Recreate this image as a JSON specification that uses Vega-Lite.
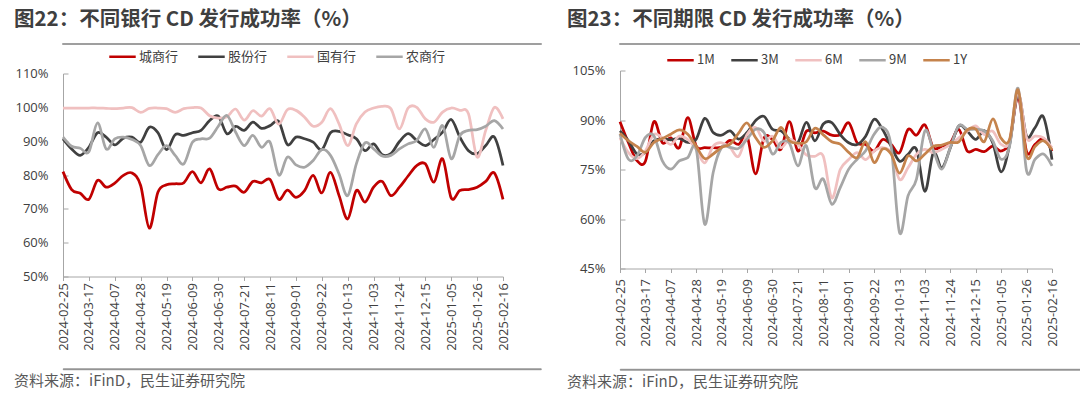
{
  "$schema": "https://vega.github.io/schema/vega-lite/v6.json",
  "background": "white",
  "padding": {"left": 13, "top": 8, "right": 0, "bottom": 0},
  "config": {
    "view": {"stroke": null},
    "font": "Noto Sans CJK SC",
    "axis": {
      "domainColor": "#a6a6a6",
      "tickColor": "#a6a6a6",
      "labelColor": "#404040",
      "labelFont": "Open Sans",
      "grid": false
    },
    "legend": {
      "orient": "none",
      "direction": "horizontal",
      "title": null,
      "labelFont": "Noto Sans CJK SC",
      "labelFontSize": 13,
      "labelColor": "#404040",
      "symbolType": "stroke",
      "symbolStrokeWidth": 2.5,
      "symbolSize": 700,
      "columnPadding": 14,
      "labelOffset": 2
    }
  },
  "datasets": {
    "banks": [
      {"d":"2024-02-25","城商行":81.0,"股份行":90.7,"国有行":99.8,"农商行":91.2},
      {"d":"2024-03-03","城商行":75.7,"股份行":87.7,"国有行":99.8,"农商行":88.5},
      {"d":"2024-03-10","城商行":74.6,"股份行":85.8,"国有行":99.8,"农商行":87.9},
      {"d":"2024-03-17","城商行":72.8,"股份行":88.2,"国有行":99.8,"农商行":86.9},
      {"d":"2024-03-24","城商行":78.4,"股份行":92.5,"国有行":99.8,"农商行":95.4},
      {"d":"2024-03-31","城商行":76.4,"股份行":91.2,"国有行":99.7,"农商行":87.7},
      {"d":"2024-04-07","城商行":77.6,"股份行":88.9,"国有行":99.6,"农商行":90.7},
      {"d":"2024-04-14","城商行":79.9,"股份行":90.9,"国有行":99.8,"农商行":91.2},
      {"d":"2024-04-21","城商行":80.6,"股份行":91.2,"国有行":99.9,"农商行":90.5},
      {"d":"2024-04-28","城商行":76.9,"股份行":89.7,"国有行":98.5,"农商行":88.7},
      {"d":"2024-05-05","城商行":64.3,"股份行":94.1,"国有行":99.7,"农商行":82.8},
      {"d":"2024-05-12","城商行":74.9,"股份行":92.5,"国有行":99.8,"农商行":86.0},
      {"d":"2024-05-19","城商行":77.1,"股份行":87.5,"国有行":99.6,"农商行":88.7},
      {"d":"2024-05-26","城商行":77.4,"股份行":91.9,"国有行":98.5,"农商行":85.8},
      {"d":"2024-06-02","城商行":77.7,"股份行":91.7,"国有行":99.6,"农商行":83.3},
      {"d":"2024-06-09","城商行":81.0,"股份行":92.5,"国有行":99.9,"农商行":89.7},
      {"d":"2024-06-16","城商行":77.7,"股份行":93.2,"国有行":99.8,"农商行":90.7},
      {"d":"2024-06-23","城商行":81.8,"股份行":96.1,"国有行":97.5,"农商行":90.9},
      {"d":"2024-06-30","城商行":75.9,"股份行":97.4,"国有行":96.8,"农商行":94.4},
      {"d":"2024-07-07","城商行":76.4,"股份行":92.2,"国有行":97.2,"农商行":97.6},
      {"d":"2024-07-14","城商行":76.7,"股份行":94.4,"国有行":99.5,"农商行":92.7},
      {"d":"2024-07-21","城商行":74.9,"股份行":93.2,"国有行":96.2,"农商行":88.7},
      {"d":"2024-07-28","城商行":78.1,"股份行":95.6,"国有行":99.0,"农商行":91.7},
      {"d":"2024-08-04","城商行":77.7,"股份行":93.8,"国有行":97.4,"农商行":88.2},
      {"d":"2024-08-11","城商行":78.7,"股份行":94.6,"国有行":99.6,"农商行":89.7},
      {"d":"2024-08-18","城商行":72.8,"股份行":95.8,"国有行":95.0,"农商行":80.0},
      {"d":"2024-08-25","城商行":75.5,"股份行":89.0,"国有行":99.3,"农商行":85.3},
      {"d":"2024-09-01","城商行":73.4,"股份行":91.2,"国有行":99.1,"农商行":83.0},
      {"d":"2024-09-08","城商行":75.4,"股份行":90.7,"国有行":97.1,"农商行":82.3},
      {"d":"2024-09-15","城商行":79.9,"股份行":89.7,"国有行":94.4,"农商行":84.3},
      {"d":"2024-09-22","城商行":74.7,"股份行":87.5,"国有行":95.6,"农商行":87.5},
      {"d":"2024-09-29","城商行":80.8,"股份行":92.5,"国有行":99.6,"农商行":85.8},
      {"d":"2024-10-06","城商行":73.9,"股份行":92.9,"国有行":95.1,"农商行":80.3},
      {"d":"2024-10-13","城商行":67.0,"股份行":91.9,"国有行":88.7,"农商行":73.9},
      {"d":"2024-10-20","城商行":75.4,"股份行":90.7,"国有行":95.1,"农商行":83.3},
      {"d":"2024-10-27","城商行":72.0,"股份行":87.2,"国有行":98.6,"农商行":89.5},
      {"d":"2024-11-03","城商行":76.4,"股份行":89.2,"国有行":99.8,"农商行":87.7},
      {"d":"2024-11-10","城商行":78.1,"股份行":86.0,"国有行":100.3,"农商行":85.6},
      {"d":"2024-11-17","城商行":73.9,"股份行":86.3,"国有行":99.6,"农商行":85.8},
      {"d":"2024-11-24","城商行":76.4,"股份行":89.9,"国有行":93.6,"农商行":87.7},
      {"d":"2024-12-01","城商行":79.7,"股份行":92.2,"国有行":99.8,"农商行":89.2},
      {"d":"2024-12-08","城商行":82.8,"股份行":90.2,"国有行":100.0,"农商行":90.2},
      {"d":"2024-12-15","城商行":83.3,"股份行":88.7,"国有行":96.6,"农商行":93.6},
      {"d":"2024-12-22","城商行":77.9,"股份行":90.5,"国有行":95.6,"农商行":88.2},
      {"d":"2024-12-29","城商行":84.8,"股份行":92.7,"国有行":98.6,"农商行":94.6},
      {"d":"2025-01-05","城商行":73.2,"股份行":96.4,"国有行":99.8,"农商行":84.8},
      {"d":"2025-01-12","城商行":75.4,"股份行":91.2,"国有行":99.1,"农商行":91.7},
      {"d":"2025-01-19","城商行":75.7,"股份行":87.2,"国有行":98.1,"农商行":93.2},
      {"d":"2025-01-26","城商行":76.4,"股份行":86.3,"国有行":85.3,"农商行":93.4},
      {"d":"2025-02-02","城商行":78.1,"股份行":88.7,"国有行":93.2,"农商行":94.4},
      {"d":"2025-02-09","城商行":80.6,"股份行":91.2,"国有行":100.0,"农商行":96.1},
      {"d":"2025-02-16","城商行":72.8,"股份行":82.8,"国有行":96.6,"农商行":93.6}
    ],
    "terms": [
      {"d":"2024-02-25","1M":89.5,"3M":86.7,"6M":84.6,"9M":85.7,"1Y":86.0},
      {"d":"2024-03-03","1M":83.1,"3M":83.7,"6M":80.1,"9M":78.1,"1Y":83.7},
      {"d":"2024-03-10","1M":77.7,"3M":79.7,"6M":78.3,"9M":79.1,"1Y":82.0},
      {"d":"2024-03-17","1M":77.5,"3M":80.2,"6M":80.6,"9M":84.7,"1Y":80.2},
      {"d":"2024-03-24","1M":89.5,"3M":83.7,"6M":85.6,"9M":85.2,"1Y":83.2},
      {"d":"2024-03-31","1M":83.1,"3M":84.2,"6M":84.6,"9M":77.6,"1Y":84.4},
      {"d":"2024-04-07","1M":84.6,"3M":84.0,"6M":82.6,"9M":75.1,"1Y":85.7},
      {"d":"2024-04-14","1M":81.6,"3M":84.4,"6M":85.1,"9M":77.6,"1Y":87.0},
      {"d":"2024-04-21","1M":90.7,"3M":83.2,"6M":84.1,"9M":78.6,"1Y":85.7},
      {"d":"2024-04-28","1M":82.1,"3M":84.2,"6M":81.1,"9M":81.2,"1Y":82.0},
      {"d":"2024-05-05","1M":81.6,"3M":90.5,"6M":77.0,"9M":58.4,"1Y":78.3},
      {"d":"2024-05-12","1M":81.6,"3M":86.2,"6M":82.1,"9M":74.1,"1Y":79.7},
      {"d":"2024-05-19","1M":81.8,"3M":85.4,"6M":83.1,"9M":81.7,"1Y":81.7},
      {"d":"2024-05-26","1M":83.8,"3M":86.7,"6M":81.6,"9M":81.7,"1Y":82.7},
      {"d":"2024-06-02","1M":82.6,"3M":84.2,"6M":79.0,"9M":81.4,"1Y":86.0},
      {"d":"2024-06-09","1M":85.1,"3M":86.2,"6M":85.6,"9M":84.2,"1Y":89.1},
      {"d":"2024-06-16","1M":73.7,"3M":89.8,"6M":87.7,"9M":87.2,"1Y":84.7},
      {"d":"2024-06-23","1M":84.6,"3M":91.1,"6M":83.6,"9M":86.2,"1Y":81.7},
      {"d":"2024-06-30","1M":84.1,"3M":87.2,"6M":85.1,"9M":79.7,"1Y":83.7},
      {"d":"2024-07-07","1M":81.1,"3M":86.7,"6M":81.6,"9M":83.2,"1Y":87.8},
      {"d":"2024-07-14","1M":89.5,"3M":84.2,"6M":84.1,"9M":83.0,"1Y":83.7},
      {"d":"2024-07-21","1M":80.6,"3M":83.2,"6M":82.6,"9M":76.1,"1Y":83.0},
      {"d":"2024-07-28","1M":86.6,"3M":89.3,"6M":79.4,"9M":82.2,"1Y":83.4},
      {"d":"2024-08-04","1M":86.1,"3M":83.7,"6M":79.0,"9M":69.5,"1Y":87.5},
      {"d":"2024-08-11","1M":86.6,"3M":88.8,"6M":79.0,"9M":72.1,"1Y":85.5},
      {"d":"2024-08-18","1M":85.4,"3M":89.2,"6M":66.4,"9M":64.5,"1Y":83.4},
      {"d":"2024-08-25","1M":85.6,"3M":85.6,"6M":75.0,"9M":69.5,"1Y":82.7},
      {"d":"2024-09-01","1M":89.2,"3M":83.1,"6M":78.0,"9M":75.1,"1Y":80.2},
      {"d":"2024-09-08","1M":83.1,"3M":82.6,"6M":80.1,"9M":78.1,"1Y":78.6},
      {"d":"2024-09-15","1M":82.6,"3M":85.1,"6M":78.0,"9M":80.7,"1Y":83.4},
      {"d":"2024-09-22","1M":80.6,"3M":90.2,"6M":80.6,"9M":85.7,"1Y":77.1},
      {"d":"2024-09-29","1M":84.1,"3M":87.1,"6M":81.6,"9M":87.8,"1Y":81.2},
      {"d":"2024-10-06","1M":82.6,"3M":82.1,"6M":80.1,"9M":82.2,"1Y":79.7},
      {"d":"2024-10-13","1M":80.1,"3M":77.5,"6M":72.0,"9M":55.9,"1Y":73.9},
      {"d":"2024-10-20","1M":87.1,"3M":79.6,"6M":75.5,"9M":67.0,"1Y":79.1},
      {"d":"2024-10-27","1M":85.4,"3M":81.1,"6M":79.6,"9M":72.1,"1Y":77.6},
      {"d":"2024-11-03","1M":88.5,"3M":68.4,"6M":81.1,"9M":86.7,"1Y":79.7},
      {"d":"2024-11-10","1M":81.6,"3M":80.1,"6M":80.1,"9M":80.7,"1Y":82.0},
      {"d":"2024-11-17","1M":82.1,"3M":75.5,"6M":81.1,"9M":75.1,"1Y":82.4},
      {"d":"2024-11-24","1M":83.1,"3M":81.6,"6M":82.6,"9M":81.7,"1Y":83.2},
      {"d":"2024-12-01","1M":87.1,"3M":88.2,"6M":84.6,"9M":88.3,"1Y":83.4},
      {"d":"2024-12-08","1M":80.6,"3M":86.6,"6M":86.6,"9M":87.2,"1Y":87.0},
      {"d":"2024-12-15","1M":81.1,"3M":84.1,"6M":88.2,"9M":87.2,"1Y":87.2},
      {"d":"2024-12-22","1M":80.4,"3M":86.8,"6M":85.6,"9M":86.7,"1Y":83.4},
      {"d":"2024-12-29","1M":82.1,"3M":83.1,"6M":86.6,"9M":83.7,"1Y":90.3},
      {"d":"2025-01-05","1M":80.6,"3M":74.3,"6M":82.6,"9M":78.1,"1Y":84.4},
      {"d":"2025-01-12","1M":83.6,"3M":82.6,"6M":83.6,"9M":82.2,"1Y":84.2},
      {"d":"2025-01-19","1M":97.0,"3M":97.8,"6M":98.3,"9M":99.6,"1Y":99.2},
      {"d":"2025-01-26","1M":80.4,"3M":85.1,"6M":84.6,"9M":74.6,"1Y":79.1},
      {"d":"2025-02-02","1M":82.6,"3M":87.7,"6M":85.1,"9M":78.1,"1Y":82.0},
      {"d":"2025-02-09","1M":84.4,"3M":90.9,"6M":84.6,"9M":79.7,"1Y":83.7},
      {"d":"2025-02-16","1M":80.6,"3M":78.0,"6M":81.6,"9M":76.1,"1Y":81.0}
    ]
  },
  "hconcat": [
    {
      "spacing": -8.5,
      "resolve": {"scale": {"color": "independent"}, "legend": {"color": "independent"}},
      "vconcat": [
        {
          "width": 478,
          "height": 0.01,
          "view": {"stroke": "#7f7f7f", "strokeWidth": 1.5},
          "title": {"text": "图22：不同银行 CD 发行成功率（%）", "anchor": "start", "dx": -49, "offset": 8, "fontSize": 20.5, "fontWeight": "bold", "color": "#3f3f3f", "font": "Noto Sans CJK SC"},
          "data": {"values": [{}]},
          "mark": {"type": "text", "text": ""}
        },
        {
          "width": 440,
          "height": 203,
          "data": {"name": "banks"},
          "transform": [{"fold": ["城商行", "股份行", "国有行", "农商行"], "as": ["series", "value"]}],
          "mark": {"type": "line", "interpolate": "cardinal", "strokeWidth": 2.75},
          "encoding": {
            "x": {
              "field": "d", "type": "ordinal",
              "scale": {"type": "point", "padding": 0},
              "axis": {
                "title": ".", "titleOpacity": 0, "titleFontSize": 10, "titlePadding": 7.5,
                "values": ["2024-02-25","2024-03-17","2024-04-07","2024-04-28","2024-05-19","2024-06-09","2024-06-30","2024-07-21","2024-08-11","2024-09-01","2024-09-22","2024-10-13","2024-11-03","2024-11-24","2024-12-15","2025-01-05","2025-01-26","2025-02-16"],
                "labelAngle": 270, "labelFontSize": 13, "tickSize": 4, "labelPadding": 2
              }
            },
            "y": {
              "field": "value", "type": "quantitative",
              "scale": {"domain": [50, 110], "nice": false, "zero": false},
              "axis": {"title": null, "values": [50, 60, 70, 80, 90, 100, 110], "labelExpr": "datum.value + '%'", "labelFontSize": 13, "tickSize": -5, "labelPadding": 20}
            },
            "color": {
              "field": "series", "type": "nominal",
              "scale": {"domain": ["城商行", "股份行", "国有行", "农商行"], "range": ["#c00000", "#404040", "#f0c0c0", "#a6a6a6"]},
              "legend": {"legendX": 45, "legendY": -31.5}
            }
          }
        },
        {
          "width": 478,
          "height": 1,
          "view": {"stroke": "#8a8a8a", "strokeWidth": 0.75, "fill": "#8a8a8a"},
          "title": {"text": "资料来源：iFinD，民生证券研究院", "orient": "bottom", "anchor": "start", "dx": -49, "offset": 0, "fontSize": 15, "fontWeight": "normal", "color": "#595959", "font": "Noto Sans CJK SC"},
          "data": {"values": [{}]},
          "mark": {"type": "text", "text": ""}
        }
      ]
    },
    {
      "spacing": -4.5,
      "resolve": {"scale": {"color": "independent"}, "legend": {"color": "independent"}},
      "vconcat": [
        {
          "width": 461,
          "height": 0.01,
          "view": {"stroke": "#7f7f7f", "strokeWidth": 1.5},
          "title": {"text": "图23：不同期限 CD 发行成功率（%）", "anchor": "start", "dx": -53, "offset": 8, "fontSize": 20.5, "fontWeight": "bold", "color": "#3f3f3f", "font": "Noto Sans CJK SC"},
          "data": {"values": [{}]},
          "mark": {"type": "text", "text": ""}
        },
        {
          "width": 432,
          "height": 198,
          "data": {"name": "terms"},
          "transform": [{"fold": ["1M", "3M", "6M", "9M", "1Y"], "as": ["series", "value"]}],
          "mark": {"type": "line", "interpolate": "cardinal", "strokeWidth": 2.75},
          "encoding": {
            "x": {
              "field": "d", "type": "ordinal",
              "scale": {"type": "point", "padding": 0},
              "axis": {
                "title": ".", "titleOpacity": 0, "titleFontSize": 10, "titlePadding": 10.5,
                "values": ["2024-02-25","2024-03-17","2024-04-07","2024-04-28","2024-05-19","2024-06-09","2024-06-30","2024-07-21","2024-08-11","2024-09-01","2024-09-22","2024-10-13","2024-11-03","2024-11-24","2024-12-15","2025-01-05","2025-01-26","2025-02-16"],
                "labelAngle": 270, "labelFontSize": 13, "tickSize": 4, "labelPadding": 6
              }
            },
            "y": {
              "field": "value", "type": "quantitative",
              "scale": {"domain": [45, 105], "nice": false, "zero": false},
              "axis": {"title": null, "values": [45, 60, 75, 90, 105], "labelExpr": "datum.value + '%'", "labelFontSize": 13, "tickSize": -5, "labelPadding": 20}
            },
            "color": {
              "field": "series", "type": "nominal",
              "scale": {"domain": ["1M", "3M", "6M", "9M", "1Y"], "range": ["#c00000", "#404040", "#f0c0c0", "#a6a6a6", "#c5834c"]},
              "legend": {"legendX": 46, "legendY": -25, "columnPadding": 11}
            }
          }
        },
        {
          "width": 461,
          "height": 1,
          "view": {"stroke": "#8a8a8a", "strokeWidth": 0.75, "fill": "#8a8a8a"},
          "title": {"text": "资料来源：iFinD，民生证券研究院", "orient": "bottom", "anchor": "start", "dx": -53, "offset": 0, "fontSize": 15, "fontWeight": "normal", "color": "#595959", "font": "Noto Sans CJK SC"},
          "data": {"values": [{}]},
          "mark": {"type": "text", "text": ""}
        }
      ]
    }
  ],
  "spacing": 24,
  "resolve": {"scale": {"color": "independent"}, "legend": {"color": "independent"}}
}
